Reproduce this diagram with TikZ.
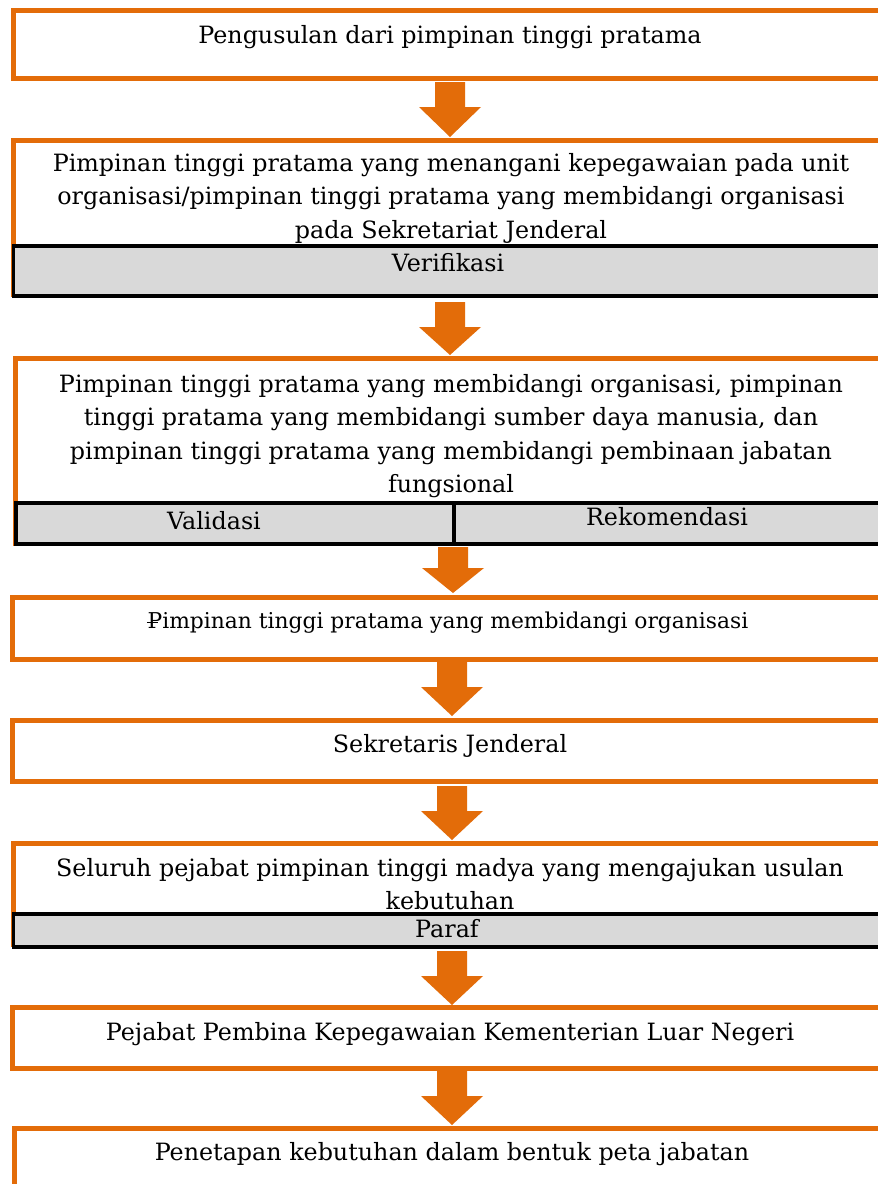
\documentclass[tikz,border=0pt]{standalone}
\usepackage{fontspec}
\setmainfont{DejaVu Serif}
\definecolor{orng}{HTML}{E36C09}
\definecolor{barg}{HTML}{D9D9D9}
\newcommand{\blkarrow}[5]{% x, ytop, total length, head length, name
  \fill[orng] (#1-15,#2) -- (#1+15,#2) -- (#1+15,#2+#3-#4) -- (#1+31,#2+#3-#4)
    -- (#1,#2+#3) coordinate (#5) -- (#1-31,#2+#3-#4) -- (#1-15,#2+#3-#4) -- cycle;}
\begin{document}
\begin{tikzpicture}[x=1pt,y=-1pt,
 obox/.style={draw=orng, line width=5pt, fill=white},
 gbar/.style={draw=black, line width=3.5pt, fill=barg},
 txt/.style={font=\fontsize{23.8}{33}\selectfont, inner sep=0pt, anchor=base},
]
\useasboundingbox (0,0) rectangle (878,1184);
\clip (0,0) rectangle (878,1184);
\fill[white] (0,0) rectangle (878,1184);
% box 1
\path[obox] (13,10) rectangle (888,78);
\node[txt] (t1) at (450,43) {Pengusulan dari pimpinan tinggi pratama};
\blkarrow{450}{82}{55}{30}{a1}
% box 2
\path[obox] (13,140) rectangle (888,294);
\node[txt] (t2a) at (451,171) {Pimpinan tinggi pratama yang menangani kepegawaian pada unit};
\node[txt] (t2b) at (451,204) {organisasi/pimpinan tinggi pratama yang membidangi organisasi};
\node[txt] (t2c) at (451,238) {pada Sekretariat Jenderal};
\path[gbar] (13.5,246) rectangle (890,296);
\node[txt] (v1) at (448,271) {Verifikasi};
\blkarrow{450}{302}{53}{28}{a2}
% box 3
\path[obox] (15,358) rectangle (888,543);
\node[txt] (t3a) at (451,392) {Pimpinan tinggi pratama yang membidangi organisasi, pimpinan};
\node[txt] (t3b) at (451,425) {tinggi pratama yang membidangi sumber daya manusia, dan};
\node[txt] (t3c) at (451,459) {pimpinan tinggi pratama yang membidangi pembinaan jabatan};
\node[txt] (t3d) at (451,492) {fungsional};
\path[gbar] (16,503) rectangle (454,544);
\path[gbar] (454,503) rectangle (890,544);
\node[txt] (v2) at (214,529) {Validasi};
\node[txt] (v3) at (667,525) {Rekomendasi};
\blkarrow{453}{547}{46}{25}{a3}
% box 4
\path[obox] (12,597) rectangle (888,659);
\node[txt, font=\fontsize{21.8}{30}\selectfont] (t4) at (448,628) {\rlap{\hspace{-0.04em}\raisebox{0.24em}{\rule{0.5em}{1pt}}}Pimpinan tinggi pratama yang membidangi organisasi};
\blkarrow{452}{662}{54}{29}{a4}
% box 5
\path[obox] (12,720) rectangle (888,781);
\node[txt] (t5) at (450,752) {Sekretaris Jenderal};
\blkarrow{452}{786}{54}{29}{a5}
% box 6
\path[obox] (13,843) rectangle (888,944);
\node[txt] (t6a) at (450,876) {Seluruh pejabat pimpinan tinggi madya yang mengajukan usulan};
\node[txt] (t6b) at (450,909) {kebutuhan};
\path[gbar] (13.5,914) rectangle (890,947);
\node[txt] (v4) at (447,937) {Paraf};
\blkarrow{452}{951}{54}{29}{a6}
% box 7
\path[obox] (12,1007) rectangle (888,1068);
\node[txt] (t7) at (450,1040) {Pejabat Pembina Kepegawaian Kementerian Luar Negeri};
\blkarrow{452}{1071}{54}{29}{a7}
% box 8
\path[obox] (14,1128) rectangle (888,1200);
\node[txt] (t8) at (452,1160) {Penetapan kebutuhan dalam bentuk peta jabatan};
\end{tikzpicture}
\end{document}
